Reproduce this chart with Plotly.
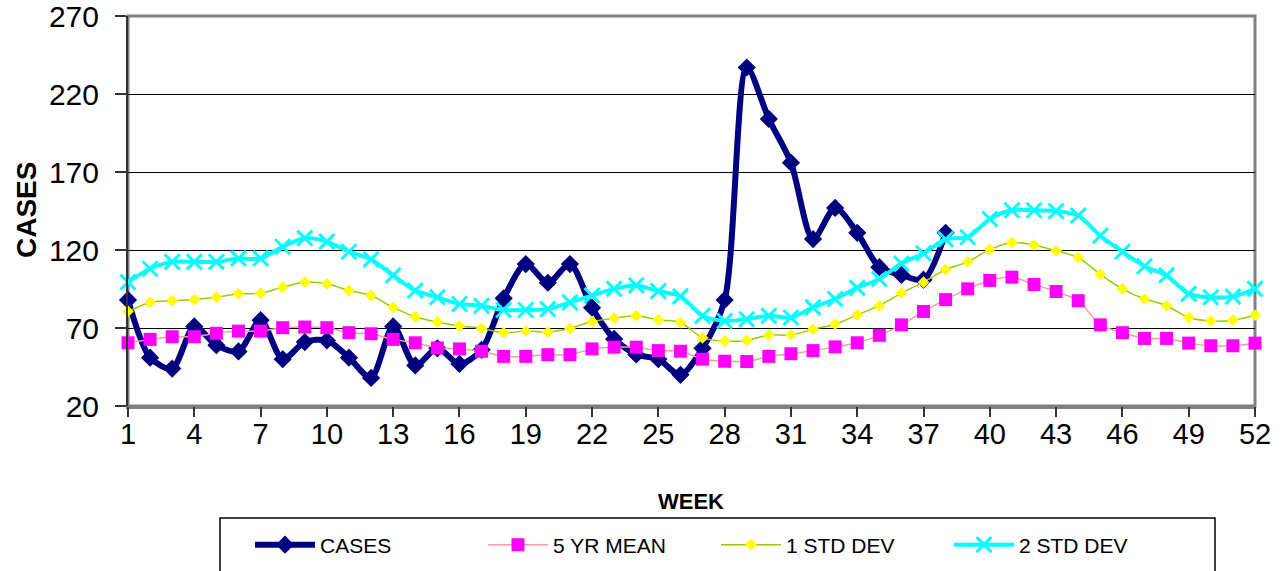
import plotly.graph_objects as go

weeks = list(range(1, 53))
cases = [88, 51, 44, 71, 59, 55, 75, 50, 61, 62, 51, 38, 71, 46, 57, 47, 56, 89, 111, 99,
         111, 83, 63, 53, 50, 40, 57, 88, 237, 204, 176, 127, 147, 131, 109, 104, 101, 131]
mean5 = [60.5, 62.7, 64.4, 64.4, 66.6, 68, 68, 70.2, 70.6, 70.2, 67, 66.3, 62.7, 60.5, 57.2, 56.6,
         55.1, 51.8, 51.8, 52.9, 52.9, 56.6, 57.7, 57.7, 55.5, 55.1, 50, 48.7, 48.5, 51.8, 53.5,
         55.5, 57.9, 60.5, 65.3, 72, 80.6, 88.2, 95.1, 100.5, 102.6, 97.9, 93.4, 87.5, 72, 67,
         63.3, 63.3, 60.3, 58.6, 58.6, 60.3]
std1 = [80.6, 86.4, 87.5, 88.2, 89.7, 91.9, 92.3, 96.2, 99.4, 98.3, 94, 90.8, 83.2, 77.1, 73.9,
        71.3, 69.8, 67, 68, 67.4, 69.8, 74.1, 76.3, 77.8, 75.2, 73.5, 63.7, 61.6, 62, 65.5, 65.5,
        69.2, 72.4, 78.4, 84.3, 92.3, 99.4, 107.4, 112.4, 120.4, 124.7, 123.2, 119.5, 115.2,
        104.4, 95.1, 88.6, 84.3, 76.7, 74.5, 75, 78.2]
std2 = [99.4, 108, 112.4, 112.4, 112.4, 114.6, 114.6, 122.1, 127.6, 125.4, 118.9, 114, 103.7, 94,
        89.7, 85.4, 84.3, 81.5, 81.5, 82.1, 86.4, 90.8, 95.1, 97.3, 93.6, 90.3, 77.8, 74.5, 75.6,
        77.8, 76.7, 83.2, 88.6, 95.7, 101.4, 111.3, 117.8, 126.9, 128.2, 139.9, 145.5, 145.5,
        144.9, 142.1, 129.1, 118.9, 109.6, 103.7, 91.9, 89.7, 90.1, 95.1]
x_ticks = [1, 4, 7, 10, 13, 16, 19, 22, 25, 28, 31, 34, 37, 40, 43, 46, 49, 52]
y_ticks = [20, 70, 120, 170, 220, 270]

FONT = "Liberation Sans, Arial, sans-serif"

fig = go.Figure()
fig.add_trace(go.Scatter(
    x=weeks[:len(cases)], y=cases, name="CASES", mode="lines+markers",
    line=dict(color="#000080", width=6, shape="spline", smoothing=0.8),
    marker=dict(symbol="diamond", size=14, color="#000080"), cliponaxis=False))
fig.add_trace(go.Scatter(
    x=weeks, y=mean5, name="5 YR MEAN", mode="lines+markers",
    line=dict(color="#FF9999", width=1.5, shape="spline", smoothing=0.8),
    marker=dict(symbol="square", size=13, color="#FF00FF"), cliponaxis=False))
fig.add_trace(go.Scatter(
    x=weeks, y=std1, name="1 STD DEV", mode="lines+markers",
    line=dict(color="#99CC00", width=1.5, shape="spline", smoothing=0.8),
    marker=dict(symbol="diamond", size=9, color="#FFFF00"), cliponaxis=False))
fig.add_trace(go.Scatter(
    x=weeks, y=std2, name="2 STD DEV", mode="lines+markers",
    line=dict(color="#00FFFF", width=4, shape="spline", smoothing=0.8),
    marker=dict(symbol="x-thin", size=15, color="#00FFFF",
                line=dict(color="#00FFFF", width=3)), cliponaxis=False))

W, H = 1288, 571
PL, PR, PT, PB = 128, 1255, 16, 406   # plot area in page pixels
L, R, T, B = PL, W - PR, PT, H - PB
pw, ph = PR - PL, PB - PT

def px(x):
    return (x - PL) / pw

def py(y):
    return (PB - y) / ph

fig.update_layout(
    width=W, height=H,
    margin=dict(l=L, r=R, t=T, b=B, autoexpand=False),
    paper_bgcolor="white", plot_bgcolor="white",
    font=dict(family=FONT, color="black"),
    xaxis=dict(range=[1, 52], tickvals=x_ticks, ticktext=[str(v) for v in x_ticks],
               ticks="", ticklabeloverflow="allow",
               tickfont=dict(size=29, family=FONT), showgrid=False, zeroline=False,
               showline=True, linecolor="#808080", linewidth=3),
    xaxis2=dict(range=[1, 52], overlaying="x", side="bottom", anchor="y",
                tickvals=x_ticks, showticklabels=False, ticks="outside", ticklen=10,
                tickwidth=1.5, tickcolor="#333333", showgrid=False, zeroline=False,
                showline=False),
    yaxis=dict(range=[20, 270], tickvals=y_ticks, ticks="outside", ticklen=11,
               tickwidth=1.5, tickcolor="#333333", ticklabelstandoff=10,
               ticklabeloverflow="allow",
               tickfont=dict(size=30, family=FONT), showgrid=True, gridcolor="black",
               gridwidth=1, zeroline=False, showline=True, linecolor="#333333", linewidth=2),
    showlegend=True,
    legend=dict(orientation="h", x=px(250), xanchor="left", y=py(545), yanchor="middle",
                font=dict(size=21, family=FONT), bgcolor="rgba(0,0,0,0)", borderwidth=0,
                itemwidth=60, entrywidth=158, entrywidthmode="pixels"),
    shapes=[
        dict(type="rect", xref="paper", yref="paper", x0=0, x1=1, y0=0, y1=1,
             line=dict(color="#808080", width=3), layer="below"),
        dict(type="rect", xref="paper", yref="paper", x0=px(220), x1=px(1215),
             y0=py(518), y1=py(600), line=dict(color="black", width=1.5),
             fillcolor="rgba(0,0,0,0)", layer="below"),
    ],
    annotations=[
        dict(text="<b>CASES</b>", xref="paper", yref="paper", x=px(26), y=py(210),
             xanchor="center", yanchor="middle", textangle=-90, showarrow=False,
             font=dict(size=28, family=FONT)),
        dict(text="<b>WEEK</b>", xref="paper", yref="paper", x=px(691), y=py(501),
             xanchor="center", yanchor="middle", showarrow=False,
             font=dict(size=22, family=FONT)),
    ],
)
# invisible trace to activate the tick-only overlay axis
fig.add_trace(go.Scatter(x=[1, 52], y=[20, 20], xaxis="x2", mode="none",
                         showlegend=False, hoverinfo="skip"))

fig.write_html("out.html", config={"displayModeBar": False},
               post_script="document.body.style.margin='0px';")
